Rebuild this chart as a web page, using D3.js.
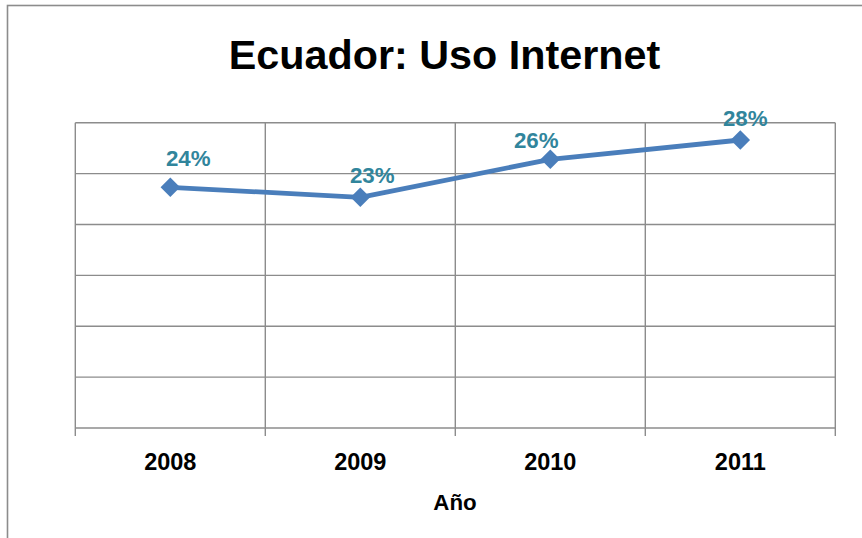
<!DOCTYPE html>
<html>
<head>
<meta charset="utf-8">
<script src="https://cdn.jsdelivr.net/npm/d3@7"></script>
<style>
  html, body { margin: 0; padding: 0; background: #fff; }
  svg { display: block; }
  text { font-family: "Liberation Sans", Arial, sans-serif; font-weight: bold; }
</style>
</head>
<body>
<svg id="chart" width="862" height="538"></svg>
<script>
// ---- data ----
const years = ["2008", "2009", "2010", "2011"];
const usoInternet = [0.2365, 0.2267, 0.264, 0.283];
const dataLabels = ["24%", "23%", "26%", "28%"];
const yTicks = [0, 0.05, 0.10, 0.15, 0.20, 0.25, 0.30];
const title = "Ecuador: Uso Internet";
const xTitle = "Año";

// ---- layout (not data) ----
const labelNudge = [[18, -21], [12, -14], [-14, -11], [5, -14]];
const plot = { left: 75.3, right: 835.3, top: 122.7, bottom: 428 };
const gridColor = "#8c8c8c";
const lineColor = "#4a7ebb";
const labelColor = "#31859c";

const svg = d3.select("#chart");

// outer chart border (left + top visible, extends past window)
svg.append("rect")
  .attr("x", 7.5).attr("y", 5.5)
  .attr("width", 900).attr("height", 600)
  .attr("fill", "none").attr("stroke", gridColor).attr("stroke-width", 1.6);

const x = d3.scaleBand().domain(years).range([plot.left, plot.right]).padding(0);
const y = d3.scaleLinear().domain([0, 0.30]).range([plot.bottom, plot.top]);

// horizontal gridlines
svg.append("g").selectAll("line").data(yTicks).join("line")
  .attr("x1", plot.left).attr("x2", plot.right)
  .attr("y1", d => y(d)).attr("y2", d => y(d))
  .attr("stroke", gridColor).attr("stroke-width", 1.4);

// vertical gridlines at category boundaries, with tick marks below
const bounds = years.map(d => x(d)).concat([x(years[years.length - 1]) + x.bandwidth()]);
svg.append("g").selectAll("line").data(bounds).join("line")
  .attr("x1", d => d).attr("x2", d => d)
  .attr("y1", plot.top).attr("y2", plot.bottom + 8)
  .attr("stroke", gridColor).attr("stroke-width", 1.4);

// category labels via axis
const xAxis = svg.append("g")
  .attr("transform", `translate(0,${plot.bottom})`)
  .call(d3.axisBottom(x).tickSize(0).tickPadding(25));
xAxis.select(".domain").remove();
xAxis.selectAll("text")
  .attr("font-size", 23.5).attr("fill", "#000")
  .attr("font-family", "'Liberation Sans', Arial, sans-serif")
  .attr("font-weight", "bold");

// axis title
svg.append("text")
  .attr("x", 455).attr("y", 510)
  .attr("text-anchor", "middle")
  .attr("font-size", 22.3).attr("fill", "#000")
  .text(xTitle);

// chart title
svg.append("text")
  .attr("x", 444.5).attr("y", 68.5)
  .attr("text-anchor", "middle")
  .attr("font-size", 41.3).attr("fill", "#000")
  .text(title);

// series line
const pts = years.map((d, i) => [x(d) + x.bandwidth() / 2, y(usoInternet[i])]);
svg.append("path")
  .attr("d", d3.line()(pts))
  .attr("fill", "none").attr("stroke", lineColor)
  .attr("stroke-width", 4.8).attr("stroke-linejoin", "round");

// diamond markers
svg.append("g").selectAll("path").data(pts).join("path")
  .attr("transform", d => `translate(${d[0]},${d[1]}) rotate(45)`)
  .attr("d", d3.symbol().type(d3.symbolSquare).size(190))
  .attr("fill", lineColor);

// data labels
svg.append("g").selectAll("text").data(dataLabels).join("text")
  .attr("x", (d, i) => pts[i][0] + labelNudge[i][0])
  .attr("y", (d, i) => pts[i][1] + labelNudge[i][1])
  .attr("text-anchor", "middle")
  .attr("font-size", 22.3).attr("fill", labelColor)
  .text(d => d);
</script>
</body>
</html>
